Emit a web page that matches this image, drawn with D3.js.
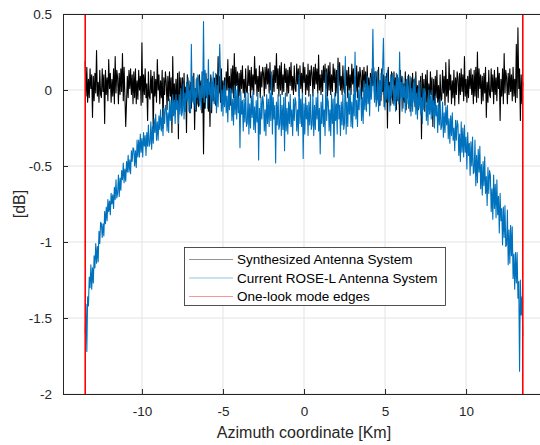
<!DOCTYPE html>
<html>
<head>
<meta charset="utf-8">
<script src="https://cdn.jsdelivr.net/npm/d3@7"></script>
<style>
  html, body { margin: 0; padding: 0; background: #fff; }
  svg { display: block; }
  text { font-family: "Liberation Sans", Arial, Helvetica, sans-serif; }
</style>
</head>
<body>
<svg id="chart" width="540" height="445"></svg>
<script>
// ---- data ----
const azimuthStartKm = -13.5;
const azimuthStepKm = 0.05;
const seriesNames = ["Synthesized Antenna System", "Current ROSE-L Antenna System", "One-look mode edges"];
const synthesizedDb = [
  0.19,-0.04,0.15,-0.08,0.07,-0.05,0.14,0.01,0.10,-0.18,0.09,-0.07,0.11,-0.02,0.26,-0.04,0.05,-0.08,0.13,-0.03,
  -0.05,0.14,-0.01,0.10,-0.22,0.13,-0.03,0.08,-0.07,0.20,0.01,0.11,-0.08,0.07,-0.04,0.14,-0.09,0.22,-0.02,0.13,
  0.08,-0.09,0.11,-0.03,0.14,-0.01,0.24,-0.07,0.15,-0.04,-0.24,-0.08,0.09,-0.05,0.13,0.01,0.14,-0.03,0.10,-0.09,
  0.12,-0.05,0.14,-0.09,0.06,-0.06,0.13,0.00,0.09,-0.10,0.31,-0.08,0.10,-0.03,0.14,-0.05,0.04,-0.20,0.12,-0.04,
  -0.06,0.13,-0.02,0.09,-0.30,0.12,-0.04,0.07,-0.08,0.20,0.00,0.10,-0.09,0.06,-0.05,0.13,-0.25,0.08,-0.03,0.12,
  0.05,-0.13,0.09,-0.07,0.12,-0.04,0.08,-0.28,0.22,-0.08,0.04,-0.12,0.07,-0.09,0.11,-0.32,0.12,-0.07,0.08,-0.13,
  0.08,-0.10,0.11,-0.14,0.02,-0.28,0.10,-0.05,0.06,-0.15,0.05,-0.12,0.07,-0.07,0.11,-0.26,0.01,-0.14,0.08,-0.09,
  -0.11,0.10,-0.06,0.06,-0.15,0.08,-0.42,0.03,-0.12,0.11,-0.05,0.07,-0.14,0.02,-0.24,0.10,-0.15,0.05,-0.07,0.08,
  0.07,-0.10,0.10,-0.04,0.22,-0.02,0.09,-0.08,0.14,-0.05,0.06,-0.09,0.08,-0.06,0.12,0.00,0.20,-0.04,0.09,-0.10,
  0.14,-0.02,0.16,-0.05,0.24,-0.03,0.15,0.03,0.12,-0.06,0.11,-0.04,0.13,0.01,0.16,-0.02,0.07,-0.05,0.14,-0.01,
  -0.02,0.16,0.03,0.13,-0.05,0.15,0.00,0.10,-0.03,0.22,0.04,0.14,-0.04,0.09,-0.01,0.16,-0.05,0.12,0.02,0.15,
  0.11,-0.04,0.15,0.01,0.17,0.04,0.14,-0.02,0.18,0.00,0.10,-0.03,0.13,-0.01,0.16,0.05,0.24,0.01,0.14,-0.04,
  0.16,0.00,0.18,-0.03,0.10,-0.01,0.17,0.05,0.14,-0.04,0.13,-0.02,0.15,0.03,0.18,0.00,0.09,-0.03,0.16,0.01,
  -0.01,0.17,0.04,0.14,-0.04,0.16,0.01,0.11,-0.02,0.18,0.05,0.15,-0.03,0.10,0.00,0.17,-0.04,0.13,0.03,0.16,
  0.11,-0.04,0.15,0.01,0.17,0.04,0.14,-0.02,0.23,0.00,0.10,-0.03,0.13,-0.01,0.16,0.05,0.17,0.01,0.14,-0.04,
  0.16,0.00,0.18,-0.03,0.10,-0.01,0.17,0.05,0.14,-0.04,0.13,-0.02,0.21,0.03,0.18,0.00,0.09,-0.03,0.16,0.01,
  -0.02,0.16,0.03,0.13,-0.05,0.15,0.00,0.10,-0.03,0.17,0.04,0.14,-0.04,0.09,-0.01,0.16,-0.05,0.12,0.02,0.15,
  0.09,-0.06,0.13,-0.01,0.15,0.02,0.12,-0.04,0.16,-0.02,0.08,-0.05,0.11,-0.03,0.14,0.03,0.15,-0.01,0.12,-0.06,
  0.12,-0.06,0.15,-0.10,0.06,-0.07,0.14,-0.01,0.10,-0.11,0.09,-0.08,0.11,-0.25,0.15,-0.06,0.05,-0.10,0.12,-0.05,
  -0.09,0.12,-0.04,0.08,-0.13,0.10,-0.07,0.05,-0.22,0.13,-0.03,0.09,-0.12,0.04,-0.08,0.12,-0.13,0.07,-0.05,0.10,
  0.04,-0.14,0.08,-0.08,0.11,-0.05,0.07,-0.11,0.12,-0.09,0.03,-0.13,0.06,-0.10,0.09,-0.32,0.11,-0.08,0.07,-0.14,
  0.10,-0.08,0.13,-0.12,0.04,-0.09,0.12,-0.03,0.08,-0.24,0.07,-0.10,0.09,-0.05,0.13,-0.08,0.03,-0.12,0.10,-0.07,
  -0.06,0.13,-0.02,0.09,-0.10,0.18,-0.04,0.07,-0.08,0.20,0.00,0.10,-0.09,0.06,-0.05,0.13,-0.10,0.08,-0.03,0.12,
  0.08,-0.09,0.11,-0.03,0.14,-0.01,0.10,-0.07,0.22,-0.04,0.07,-0.08,0.09,-0.05,0.13,0.01,0.14,-0.03,0.10,-0.09,
  0.13,-0.04,0.15,-0.08,0.25,-0.05,0.14,0.01,0.10,-0.09,0.09,-0.07,0.11,-0.02,0.15,-0.18,0.05,-0.08,0.13,-0.03,
  -0.05,0.14,-0.01,0.10,-0.09,0.13,-0.03,0.08,-0.07,0.15,0.01,0.11,-0.20,0.07,-0.04,0.14,-0.09,0.24,-0.02,0.13,
  0.08,-0.09,0.11,-0.03,0.14,-0.01,0.10,-0.07,0.15,-0.04,0.07,-0.08,0.30,-0.05,0.41,0.01,0.14,-0.20,0.10,-0.09,
  0.05
];
const currentRoseLDb = [
  -1.60,-1.41,-1.72,-1.36,-1.42,-1.23,-1.30,-1.15,-1.31,-1.17,-1.27,-1.09,-1.17,-1.01,-1.14,-1.03,-1.13,-0.93,-1.01,-0.87,
  -0.88,-0.97,-0.88,-0.96,-0.80,-0.88,-0.77,-0.86,-0.72,-0.80,-0.73,-0.82,-0.68,-0.75,-0.69,-0.78,-0.64,-0.72,-0.59,-0.71,
  -0.68,-0.56,-0.70,-0.58,-0.66,-0.53,-0.59,-0.48,-0.61,-0.52,-0.60,-0.47,-0.54,-0.43,-0.54,-0.46,-0.55,-0.40,-0.47,-0.38,
  -0.39,-0.50,-0.40,-0.51,-0.33,-0.44,-0.33,-0.44,-0.29,-0.41,-0.32,-0.44,-0.28,-0.37,-0.30,-0.43,-0.28,-0.37,-0.23,-0.37,
  -0.35,-0.21,-0.39,-0.24,-0.35,-0.19,-0.28,-0.16,-0.33,-0.21,-0.33,-0.17,-0.26,-0.13,-0.27,-0.18,-0.30,-0.12,-0.22,-0.10,
  -0.11,-0.27,-0.15,-0.28,-0.06,-0.20,-0.07,-0.21,-0.03,-0.17,-0.07,-0.22,-0.03,-0.13,-0.07,-0.22,-0.03,-0.16,0.01,-0.17,
  -0.14,0.04,-0.19,-0.02,-0.14,0.05,-0.07,0.08,-0.14,0.00,-0.15,0.30,-0.08,0.09,-0.09,0.01,-0.13,0.07,-0.05,0.10,
  0.08,-0.10,0.03,-0.13,0.12,-0.05,0.45,-0.08,0.13,-0.04,0.07,-0.12,0.20,-0.03,0.05,-0.13,0.08,-0.07,0.12,-0.09,
  -0.08,0.11,-0.15,0.03,-0.11,0.08,0.30,0.10,-0.14,0.00,-0.17,0.03,-0.11,0.06,-0.15,-0.04,-0.21,0.01,-0.13,0.01,
  0.00,-0.20,-0.06,-0.23,0.03,-0.16,0.00,-0.19,0.03,-0.15,-0.05,-0.38,-0.01,-0.16,-0.07,-0.27,-0.06,-0.21,-0.01,-0.24,
  -0.22,-0.02,-0.29,-0.09,-0.25,-0.04,-0.18,-0.01,-0.26,-0.11,-0.28,-0.07,-0.21,-0.02,-0.46,-0.12,-0.29,-0.05,-0.19,-0.04,
  -0.08,-0.27,-0.13,-0.30,-0.03,-0.22,-0.06,-0.24,-0.02,-0.20,0.12,-0.29,-0.05,-0.19,-0.10,-0.48,-0.08,-0.23,-0.03,-0.26,
  -0.23,-0.03,-0.30,-0.10,-0.26,-0.05,-0.40,-0.02,-0.27,-0.12,-0.29,-0.08,-0.22,-0.03,-0.24,-0.13,-0.30,-0.06,-0.20,-0.05,
  -0.08,-0.27,-0.13,-0.30,0.10,-0.22,-0.06,-0.24,-0.02,-0.45,-0.09,-0.29,-0.05,-0.19,-0.10,-0.30,-0.08,-0.23,-0.03,-0.26,
  -0.23,-0.03,-0.30,-0.10,-0.26,-0.05,-0.19,-0.02,-0.27,-0.12,-0.42,-0.08,-0.22,-0.03,-0.24,-0.13,-0.30,0.12,-0.20,-0.05,
  -0.08,-0.27,-0.13,-0.30,-0.03,-0.22,-0.06,-0.44,-0.02,-0.20,-0.09,-0.29,0.15,-0.19,-0.10,-0.30,-0.08,-0.23,-0.03,-0.26,
  -0.22,0.22,-0.29,-0.08,-0.24,-0.02,-0.16,0.01,-0.24,-0.08,-0.25,-0.03,-0.17,0.25,-0.19,-0.07,-0.24,0.00,-0.13,0.02,
  -0.01,-0.20,-0.05,-0.22,0.06,-0.13,0.04,-0.14,0.09,-0.09,0.03,-0.17,0.08,-0.06,0.04,0.40,0.07,-0.08,0.12,-0.11,
  -0.07,0.13,-0.14,0.06,-0.10,0.11,-0.03,0.14,0.34,0.04,-0.13,0.08,-0.06,0.13,-0.08,0.03,-0.14,0.10,-0.04,0.11,
  0.08,-0.10,0.03,-0.14,0.11,-0.06,0.08,-0.09,0.25,-0.05,0.05,-0.14,0.08,-0.05,0.03,-0.15,0.06,-0.09,0.09,-0.12,
  -0.10,0.09,-0.17,0.01,-0.14,0.05,-0.08,0.08,-0.16,-0.02,-0.19,0.01,-0.12,0.05,-0.16,-0.05,-0.22,0.01,-0.13,0.01,
  -0.02,-0.20,-0.08,-0.23,0.00,-0.16,-0.04,-0.19,0.00,-0.17,-0.07,-0.25,-0.04,-0.17,-0.10,-0.28,-0.09,-0.23,-0.06,-0.26,
  -0.24,-0.08,-0.31,-0.15,-0.28,-0.11,-0.23,-0.10,-0.32,-0.19,-0.35,-0.17,-0.30,-0.15,-0.33,-0.25,-0.40,-0.20,-0.33,-0.20,
  -0.23,-0.43,-0.29,-0.47,-0.21,-0.41,-0.25,-0.44,-0.23,-0.41,-0.31,-0.52,-0.28,-0.43,-0.35,-0.56,-0.34,-0.50,-0.31,-0.55,
  -0.54,-0.33,-0.63,-0.43,-0.61,-0.39,-0.54,-0.37,-0.65,-0.49,-0.69,-0.47,-0.63,-0.44,-0.68,-0.57,-0.76,-0.51,-0.68,-0.53,
  -0.56,-0.80,-0.65,-0.85,-0.56,-0.78,-0.62,-0.84,-0.59,-0.82,-0.70,-0.94,-0.68,-0.86,-0.78,-1.02,-0.77,-0.97,-0.76,-1.03,
  -1.02,-0.79,-1.15,-0.92,-1.14,-0.89,-1.09,-0.90,-1.24,-1.08,-1.31,-1.07,-1.27,-1.07,-1.37,-1.26,-1.85,-1.25,-1.48,-1.36,
  -1.62
];
const edgesKm = [-13.5, 13.5];
const xTicks = [-10, -5, 0, 5, 10];
const xTickLabels = ["-10", "-5", "0", "5", "10"];
const yTicks = [0.5, 0, -0.5, -1, -1.5, -2];
const yTickLabels = ["0.5", "0", "-0.5", "-1", "-1.5", "-2"];
const xDomain = [-14.87, 14.87];
const yDomain = [-2, 0.5];
const colors = ["#000000", "#0072BD", "#FF0000"];

// ---- layout ----
const svg = d3.select("#chart");
const plot = { left: 63, top: 14, right: 545, bottom: 394 };
const x = d3.scaleLinear().domain(xDomain).range([plot.left, plot.right]);
const y = d3.scaleLinear().domain(yDomain).range([plot.bottom, plot.top]);
const axisColor = "#262626";

// grid
const grid = svg.append("g");
grid.selectAll(".gx").data(xTicks).join("line")
  .attr("x1", d => x(d)).attr("x2", d => x(d))
  .attr("y1", plot.top).attr("y2", plot.bottom)
  .attr("stroke", "#e3e3e3").attr("stroke-width", 1);
grid.selectAll(".gy").data(yTicks).join("line")
  .attr("x1", plot.left).attr("x2", plot.right)
  .attr("y1", d => y(d)).attr("y2", d => y(d))
  .attr("stroke", "#e3e3e3").attr("stroke-width", 1);

// data lines
const xs = i => azimuthStartKm + i * azimuthStepKm;
const line = d3.line().x((d, i) => x(xs(i))).y(d => y(d));
svg.append("clipPath").attr("id", "clip").append("rect")
  .attr("x", plot.left).attr("y", plot.top)
  .attr("width", plot.right - plot.left).attr("height", plot.bottom - plot.top);
const dataG = svg.append("g").attr("clip-path", "url(#clip)");
dataG.append("path").datum(synthesizedDb)
  .attr("d", line).attr("fill", "none")
  .attr("stroke", colors[0]).attr("stroke-width", 1.1).attr("stroke-linejoin", "round");
dataG.append("path").datum(currentRoseLDb)
  .attr("d", line).attr("fill", "none")
  .attr("stroke", colors[1]).attr("stroke-width", 1.1).attr("stroke-linejoin", "round");
dataG.selectAll(".edge").data(edgesKm).join("line")
  .attr("x1", d => x(d)).attr("x2", d => x(d))
  .attr("y1", plot.top).attr("y2", plot.bottom)
  .attr("stroke", colors[2]).attr("stroke-width", 1.6);

// axes
const xAxisB = d3.axisBottom(x).tickValues(xTicks).tickFormat((d, i) => xTickLabels[i]).tickSizeInner(-5).tickSizeOuter(0).tickPadding(12);
const xAxisT = d3.axisTop(x).tickValues(xTicks).tickFormat("").tickSizeInner(-5).tickSizeOuter(0);
const yAxisL = d3.axisLeft(y).tickValues(yTicks).tickFormat((d, i) => yTickLabels[i]).tickSizeInner(-5).tickSizeOuter(0).tickPadding(11);

function styleAxis(g) {
  g.select(".domain").attr("stroke", axisColor).attr("stroke-width", 1);
  g.selectAll(".tick line").attr("stroke", axisColor).attr("stroke-width", 1);
  g.selectAll(".tick text").attr("fill", axisColor).style("font-size", "13.5px")
    .style("font-family", '"Liberation Sans", Arial, sans-serif');
}
svg.append("g").attr("transform", `translate(0,${plot.bottom})`).call(xAxisB).call(styleAxis);
svg.append("g").attr("transform", `translate(0,${plot.top})`).call(xAxisT).call(styleAxis);
svg.append("g").attr("transform", `translate(${plot.left},0)`).call(yAxisL).call(styleAxis);

// axis labels
svg.append("text").attr("x", (plot.left + 545) / 2).attr("y", 438)
  .attr("text-anchor", "middle").attr("fill", axisColor).style("font-size", "16px")
  .text("Azimuth coordinate [Km]");
svg.append("text").attr("transform", `translate(25,${(plot.top + plot.bottom) / 2}) rotate(-90)`)
  .attr("text-anchor", "middle").attr("fill", axisColor).style("font-size", "16px")
  .text("[dB]");

// legend
const lg = svg.append("g");
lg.append("rect").attr("x", 184.5).attr("y", 247.5).attr("width", 261).attr("height", 58)
  .attr("fill", "#fff").attr("stroke", axisColor).attr("stroke-width", 0.8);
const rowY = [259.5, 278, 296.5];
seriesNames.forEach((name, i) => {
  lg.append("line").attr("x1", 189).attr("x2", 233).attr("y1", rowY[i]).attr("y2", rowY[i])
    .attr("stroke", colors[i]).attr("stroke-width", 0.6).attr("opacity", 0.7);
  lg.append("text").attr("x", 237).attr("y", rowY[i] + 4.8).attr("fill", "#000")
    .style("font-size", "13.5px").text(name);
});
</script>
</body>
</html>
